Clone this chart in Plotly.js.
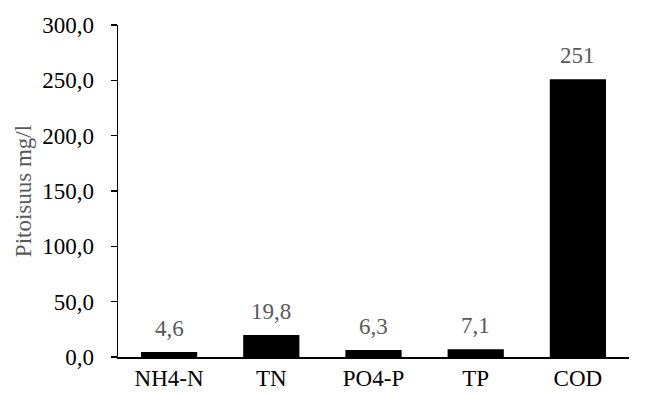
<!DOCTYPE html>
<html><head><meta charset="utf-8">
<script src="https://cdn.plot.ly/plotly-3.0.1.min.js"></script>
<style>html,body{margin:0;padding:0;background:#fff}</style>
</head><body><div id="chart" style="width:646px;height:394px"></div>
<script>
const categories = ["NH4-N", "TN", "PO4-P", "TP", "COD"];
const values = [4.6, 19.8, 6.3, 7.1, 251];
const valueLabels = ["4,6", "19,8", "6,3", "7,1", "251"];
const yTickValues = [0, 50, 100, 150, 200, 250, 300];

const font = "Liberation Serif";
const fs = 23;
const annotations = categories.map((c, i) => ({
  x: c, y: values[i], xref: "x", yref: "y",
  text: valueLabels[i], showarrow: false,
  yanchor: "bottom", yshift: 9,
  font: {family: font, size: fs, color: "#595959"}
}));
Plotly.newPlot("chart", [{
  type: "bar",
  x: categories,
  y: values,
  marker: {color: "#000000"},
  hoverinfo: "none"
}], {
  width: 646, height: 394,
  margin: {l: 118, r: 17, t: 25, b: 37},
  paper_bgcolor: "#fff", plot_bgcolor: "#fff",
  separators: ", ",
  bargap: 0.45,
  showlegend: false,
  annotations: annotations,
  font: {family: font, size: fs, color: "#000"},
  xaxis: {
    showline: true, linecolor: "#000", linewidth: 1.5,
    ticks: "", showgrid: false, zeroline: false,
    tickfont: {family: font, size: fs, color: "#000"}
  },
  yaxis: {
    range: [0, 300], tickvals: yTickValues, tickformat: ".1f",
    showline: true, linecolor: "#000", linewidth: 1.5,
    ticks: "outside", ticklen: 6, tickwidth: 1.5, tickcolor: "#000",
    ticklabelstandoff: 12,
    showgrid: false, zeroline: false,
    tickfont: {family: font, size: fs, color: "#000"},
    title: {text: "Pitoisuus mg/l", font: {family: font, size: fs, color: "#595959"}, standoff: 4}
  }
}, {displayModeBar: false, staticPlot: true});
</script></body></html>
